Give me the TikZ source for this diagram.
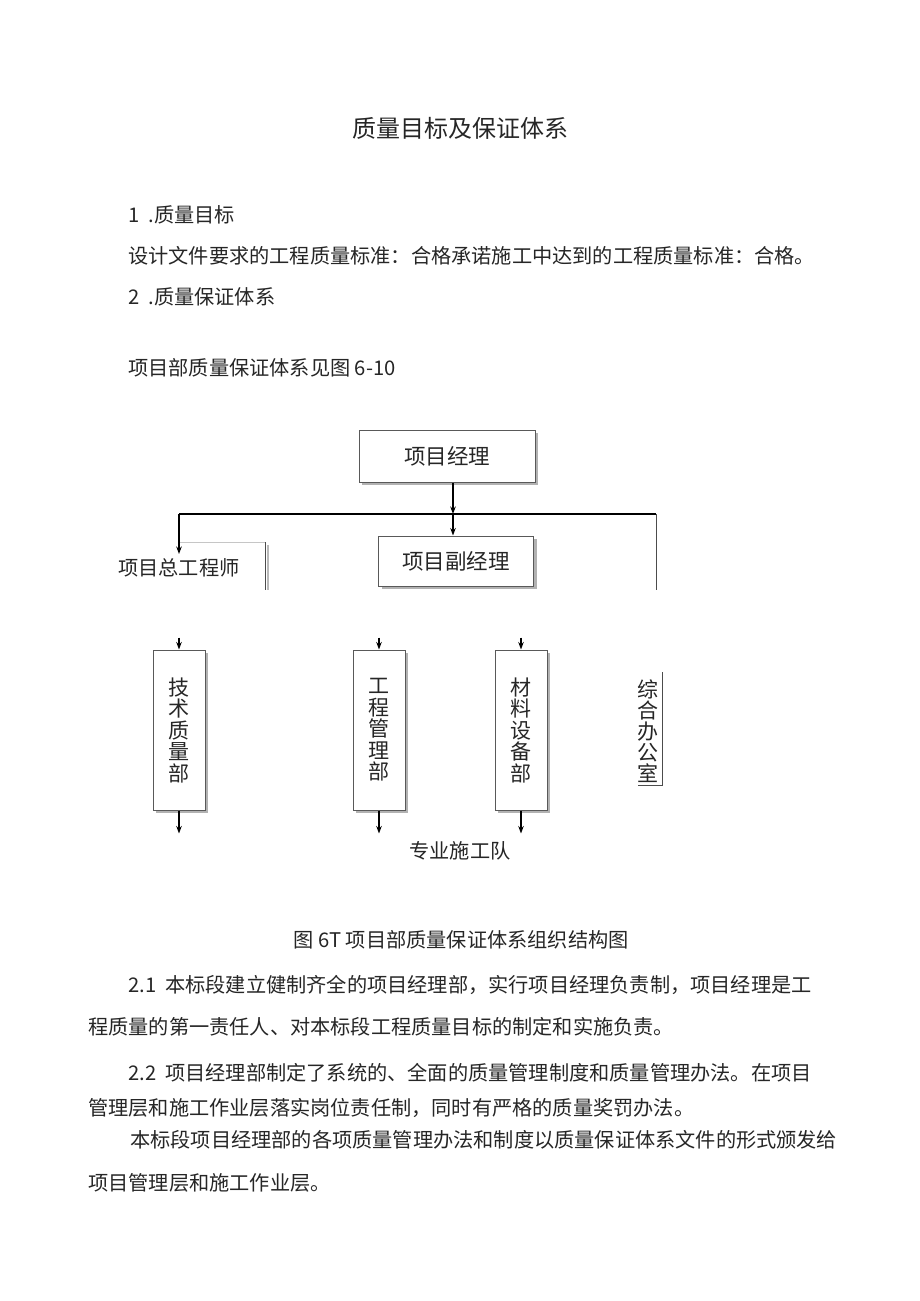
\documentclass[tikz,border=0pt]{standalone}
\usepackage{fontspec}
\setmainfont{Noto Sans CJK SC}
\usetikzlibrary{arrows.meta,positioning,calc,shadows}

\begin{document}
\begin{tikzpicture}[x=1pt,y=-1pt,>={Stealth[length=7.5pt,width=5.5pt]}]
  \tikzstyle{txt}=[anchor=west,inner sep=0pt,font=\fontsize{20.2}{24}\selectfont,text=black!85]
  \tikzstyle{box}=[draw=gray!70!black,fill=white,line width=1pt,text=black!85,font=\fontsize{21.5}{24}\selectfont,drop shadow={shadow xshift=3pt,shadow yshift=-3pt,fill=gray!60,opacity=1}]
  \tikzstyle{vbox}=[box,minimum width=52pt,minimum height=160pt,align=center,font=\fontsize{21}{21.5}\selectfont]
  \tikzstyle{link}=[line width=1.2pt]
  \tikzstyle{edge}=[gray!60!black,line width=1pt]
  \useasboundingbox (0,0) rectangle (920,1301);
  \fill[white] (0,0) rectangle (920,1301);

  % heading and text above the chart
  \node[txt,anchor=center,font=\fontsize{24}{28}\selectfont] (title) at (460,128) {质量目标及保证体系};
  \node[txt] (s1) at (128,215) {1\ \ .质量目标};
  \node[txt] (goal) at (128,256) {设计文件要求的工程质量标准：合格承诺施工中达到的工程质量标准：合格。};
  \node[txt] (s2) at (128,297) {2\ \ .质量保证体系};
  \node[txt] (see) at (128,368) {项目部质量保证体系见图 6-10};

  % upper part of the chart
  \node[box,minimum width=176pt,minimum height=52pt] (pm) at (447,456) {项目经理};
  \node[box,minimum width=155pt,minimum height=50pt] (vpm) at (456,561) {项目副经理};
  \coordinate (busL) at (179,514);
  \coordinate (busM) at (453,514);
  \coordinate (busR) at (656,514);
  \draw[link,->] (busM |- pm.south) -- (busM);
  \draw[link] (busL) -- (busR);
  \draw[link,->] (busM) -- (busM |- vpm.north);
  \coordinate (chiefIn) at (179,554);
  \draw[link,->] (busL) -- (chiefIn);
  \coordinate (busRend) at (656,590);
  \draw[edge] (busR) -- (busRend);

  \node[txt] (chief) at (118,568) {项目总工程师};
  \coordinate (chiefTL) at (180,542);
  \coordinate (chiefTR) at (265,542);
  \coordinate (chiefBR) at (265,590);
  \draw[gray!45,line width=1pt] (chiefTL) -- (chiefTR);
  \draw[edge] (chiefTR) -- (chiefBR);
  \draw[gray!55,line width=2pt] ($(chiefTR)+(3,3)$) -- ($(chiefBR)+(3,0)$);

  % departments
  \node[vbox] (tq) at (179,730) {技\\术\\质\\量\\部};
  \node[vbox] (em) at (379,730) {工\\程\\管\\理\\部};
  \node[vbox] (me) at (521,730) {材\\料\\设\\备\\部};
  \foreach \n in {tq,em,me} {
    \coordinate (\n top) at ($(\n.north)+(0,-12)$);
    \coordinate (\n bot) at ($(\n.south)+(0,23)$);
    \draw[link,->] (\n top) -- (\n.north);
    \draw[link,->] (\n.south) -- (\n bot);
  }
  \node[txt,anchor=center] (team) at (460,851) {专业施工队};

  \node[inner sep=0pt,align=center,text=black!85,font=\fontsize{21}{21}\selectfont] (office) at (648,731) {综\\合\\办\\公\\室};
  \coordinate (offTR) at (662,672);
  \coordinate (offBR) at (662,785);
  \coordinate (offBL) at (638,785);
  \draw[edge] (offTR) -- (offBR) -- (offBL);

  % caption and text below
  \node[txt,anchor=center] (cap) at (461,940) {图 6T 项目部质量保证体系组织结构图};
  \node[txt] (p1a) at (128,985) {2.1\ \ 本标段建立健制齐全的项目经理部，实行项目经理负责制，项目经理是工};
  \node[txt] (p1b) at (88,1027) {程质量的第一责任人、对本标段工程质量目标的制定和实施负责。};
  \node[txt] (p2a) at (128,1073) {2.2\ \ 项目经理部制定了系统的、全面的质量管理制度和质量管理办法。在项目};
  \node[txt] (p2b) at (88,1108) {管理层和施工作业层落实岗位责任制，同时有严格的质量奖罚办法。};
  \node[txt] (p3a) at (130,1140) {本标段项目经理部的各项质量管理办法和制度以质量保证体系文件的形式颁发给};
  \node[txt] (p3b) at (88,1183) {项目管理层和施工作业层。};
\end{tikzpicture}
\end{document}
